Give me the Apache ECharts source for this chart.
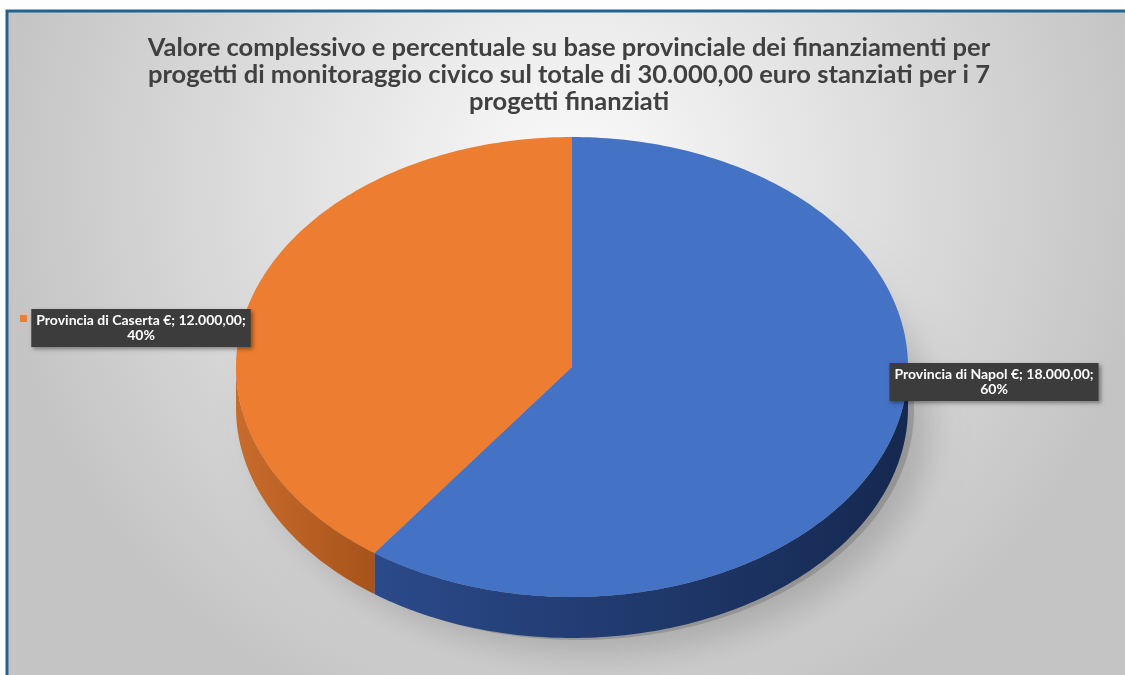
<!DOCTYPE html>
<html>
<head>
<meta charset="utf-8">
<script src="https://cdn.jsdelivr.net/npm/echarts@6/dist/echarts.min.js"></script>
<style>
  html, body { margin: 0; padding: 0; background: #ffffff; }
  #viz { width: 1125px; height: 675px; }
</style>
</head>
<body>
<div id="viz"></div>
<script>
// data
var categories = ['Provincia di Napol', 'Provincia di Caserta'];
var values = [18000, 12000];
var colors = ['#4472C4', '#ED7D31'];
var sideColors = [['#2b4a8a', '#15284f'], ['#c86c2c', '#a8531b']];
var titleText = 'Valore complessivo e percentuale su base provinciale dei finanziamenti per\n' +
    'progetti di monitoraggio civico sul totale di 30.000,00 euro stanziati per i 7\n' +
    'progetti finanziati';

// pie geometry (projected ellipse)
var cx = 572, cy = 367, rx = 336, ry = 230, depth = 41;

var total = 0;
for (var i in values) { total += values[i]; }
var startAngle = [];
var acc = 0;
for (var i = 0; i < values.length; i++) {
    startAngle.push(acc);
    acc += values[i] / total * 360;
}

function fmtEuro(v) {
    // italian style: 18.000,00
    var s = Math.floor(v).toString();
    var out = '';
    while (s.length > 3) {
        out = '.' + s.slice(-3) + out;
        s = s.slice(0, -3);
    }
    var dec = Math.round((v - Math.floor(v)) * 100);
    return s + out + ',' + (dec < 10 ? '0' + dec : dec);
}

function pt(deg, dy) {
    var a = deg * Math.PI / 180;
    return [cx + rx * Math.sin(a), cy - ry * Math.cos(a) + (dy || 0)];
}

function arc(a0, a1, dy) {
    var pts = [];
    var n = Math.max(2, Math.ceil(Math.abs(a1 - a0)));
    for (var k = 0; k <= n; k++) {
        pts.push(pt(a0 + (a1 - a0) * k / n, dy));
    }
    return pts;
}

function renderItem(params, api) {
    var idx = params.dataIndex;
    var v = api.value(1);
    var a0 = startAngle[idx];
    var a1 = a0 + v / total * 360;
    var children = [];

    if (idx === 0) {
        // soft shadow under the pie
        children.push({
            type: 'polygon',
            z2: 0,
            shape: { points: arc(0, 360, depth).map(function (p) { return [p[0] + 6, p[1] + 2]; }) },
            style: {
                fill: 'rgba(100,100,100,0.35)',
                shadowBlur: 35,
                shadowColor: 'rgba(0,0,0,0.5)',
                shadowOffsetX: 16,
                shadowOffsetY: 14
            }
        });
    }

    // front wall
    var s = Math.max(a0, 90), e = Math.min(a1, 270);
    if (e > s) {
        var pts = arc(s, e, 0).concat(arc(e, s, depth));
        children.push({
            type: 'polygon',
            z2: 1,
            shape: { points: pts },
            style: {
                fill: new echarts.graphic.LinearGradient(0, 0, 1, 0, [
                    { offset: 0, color: sideColors[idx][0] },
                    { offset: 1, color: sideColors[idx][1] }
                ])
            }
        });
    }

    // top face
    children.push({
        type: 'polygon',
        z2: 10,
        shape: { points: [[cx, cy]].concat(arc(a0, a1, 0)) },
        style: { fill: colors[idx] }
    });

    // data label
    var mid = (a0 + a1) / 2;
    var right = mid < 180;
    var lx = right ? cx + rx + 86 : cx - rx - 95;
    var ly = right ? cy + 15 : cy - 39;
    var boxLeft = right ? cx + rx - 21 : cx - rx - 206;
    var pct = Math.round(v / total * 100);
    children.push({
        type: 'rect',
        z2: 19,
        shape: { x: boxLeft - 10, y: ly - 13, width: 7, height: 7 },
        style: { fill: colors[idx] }
    });
    children.push({
        type: 'text',
        z2: 20,
        style: {
            text: categories[idx] + ' €; ' + fmtEuro(v) + ';\n' + pct + '%',
            x: lx,
            y: ly,
            align: 'center',
            verticalAlign: 'middle',
            fill: '#ffffff',
            font: 'bold 14px Lato',
            lineHeight: 15,
            backgroundColor: '#3c3c3c',
            padding: [4, 5, 4, 5],
            shadowColor: 'rgba(0,0,0,0.4)',
            shadowBlur: 4,
            shadowOffsetX: 2,
            shadowOffsetY: 2
        }
    });

    return { type: 'group', children: children };
}

var dom = document.getElementById('viz');
var myChart = echarts.init(dom, null, { renderer: 'canvas' });
var option = {
    backgroundColor: '#ffffff',
    animation: false,
    title: {
        text: titleText,
        left: 564,
        top: 29,
        textAlign: 'center',
        textStyle: {
            fontFamily: 'Lato',
            fontWeight: 'bold',
            fontSize: 25.5,
            lineHeight: 27,
            color: '#404040'
        }
    },
    graphic: [{
        type: 'rect',
        z: -10,
        silent: true,
        shape: { x: 7, y: 11, width: 1130, height: 680 },
        style: {
            fill: new echarts.graphic.RadialGradient(0.5, 0.25, 0.85, [
                { offset: 0, color: '#fbfbfb' },
                { offset: 1, color: '#c4c4c4' }
            ]),
            stroke: '#1f6391',
            lineWidth: 3
        }
    }],
    series: [{
        type: 'custom',
        coordinateSystem: 'none',
        renderItem: renderItem,
        data: values.map(function (v, i) { return [i, v]; })
    }]
};
myChart.setOption(option, true);
</script>
</body>
</html>
